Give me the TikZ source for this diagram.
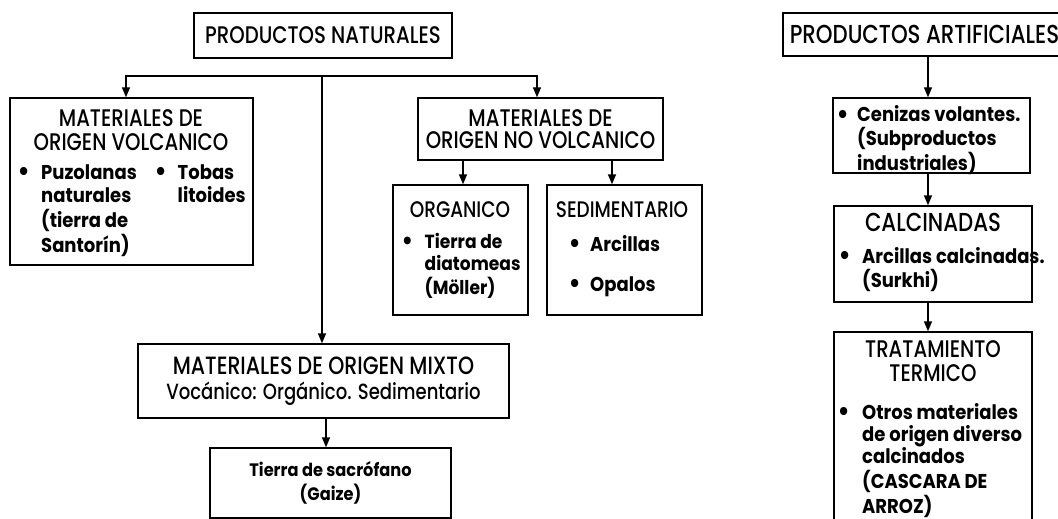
\documentclass[tikz,border=0pt]{standalone}
\usepackage{graphicx}
\usepackage{fontspec}
\setmainfont{Poppins}[UprightFont=* Medium, UprightFeatures={FakeStretch=0.82}, BoldFont=* Bold, BoldFeatures={FakeStretch=0.9}]
\usetikzlibrary{arrows.meta}

\tikzset{
  caja/.style={draw, line width=1.4, inner sep=0},
  flecha/.style={line width=1.4, -{Triangle[length=10pt,width=8pt]}},
  titulo/.style={font=\fontsize{24}{24}\selectfont, align=center, inner sep=0},
  vin/.style={font=\bfseries\fontsize{20}{23}\selectfont, anchor=base west, inner sep=0},
}
\newcommand{\vineta}[2][22pt]{\makebox[#1][l]{\raisebox{-1.5pt}{\scalebox{1.35}{\textbullet}}}\begin{tabular}[t]{@{}l@{}}#2\end{tabular}}

\begin{document}
\begin{tikzpicture}[x=1pt,y=-1pt]
      \useasboundingbox (0,0) rectangle (1058,519);
      \clip (0,0) rectangle (1058,519);
      \node[caja, titulo, minimum width=258, minimum height=45] (nat) at (323,35.5) {PRODUCTOS NATURALES};
      \node[caja, minimum width=243, minimum height=167] (volc) at (131.5,181.5) {};
      \node[titulo] (volcT) at (131,130) {MATERIALES DE\\ORIGEN VOLCANICO};
      \node[vin] (puz) at (17.5,179) {\vineta[23.5pt]{Puzolanas\\naturales\\(tierra de\\Santorín)}};
      \node[vin] (tob) at (154.5,179) {\vineta[23pt]{Tobas\\litoides}};
      \node[caja, titulo, font=\fontsize{24}{22}\selectfont, minimum width=245, minimum height=62] (novolc) at (540.5,129) {MATERIALES DE\\ORIGEN NO VOLCANICO};
      \node[caja, minimum width=135, minimum height=130] (org) at (460.5,250) {};
      \node[titulo, font=\fontsize{22.5}{23}\selectfont] (orgT) at (460,210) {ORGANICO};
      \node[vin, font=\bfseries\fontsize{19}{22.5}\selectfont] (dia) at (401.5,248) {\vineta[23pt]{Tierra de\\diatomeas\\(Möller)}};
      \node[caja, minimum width=155, minimum height=130] (sed) at (624.5,250) {};
      \node[titulo, font=\fontsize{22.5}{23}\selectfont] (sedT) at (622,210) {SEDIMENTARIO};
      \node[vin] (arc) at (568.5,251) {\vineta[21.5pt]{Arcillas}};
      \node[vin] (opa) at (568.5,291) {\vineta[21.5pt]{Opalos}};
      \node[caja, titulo, font=\fontsize{25}{25}\selectfont, minimum width=371, minimum height=74] (mixto) at (323.5,381) {MATERIALES DE ORIGEN MIXTO\\{\fontsize{22}{25}\selectfont Vocánico: Orgánico. Sedimentario}};
      \node[caja, titulo, font=\bfseries\fontsize{18}{24}\selectfont, minimum width=241, minimum height=70] (tierra) at (330.5,483) {Tierra de sacrófano\\(Gaize)};

      \node[caja, titulo, font=\fontsize{26}{26}\selectfont, minimum width=283, minimum height=43] (art) at (924.5,34.5) {PRODUCTOS ARTIFICIALES};
      \node[caja, minimum width=197, minimum height=75] (cen) at (931.5,135.5) {};
      \node[vin, font=\bfseries\fontsize{20}{20.5}\selectfont] (ceni) at (836.5,121.5) {\vineta[20.5pt]{Cenizas volantes.\\(Subproductos\\industriales)}};
      \node[caja, minimum width=198, minimum height=96] (calc) at (933,254) {};
      \node[titulo, font=\fontsize{26}{26}\selectfont] (calcT) at (933,222) {CALCINADAS};
      \node[vin, font=\bfseries\fontsize{20}{21}\selectfont] (arcc) at (838.5,263) {\vineta[23.5pt]{Arcillas calcinadas.\\(Surkhi)}};
      \node[caja, minimum width=198, minimum height=228] (trat) at (933,446) {};
      \node[titulo, font=\fontsize{24}{24}\selectfont] (tratT) at (933,361) {TRATAMIENTO\\TERMICO};
      \node[vin, font=\bfseries\fontsize{20}{21.5}\selectfont] (otros) at (837.5,419) {\vineta[24.5pt]{Otros materiales\\de origen diverso\\calcinados\\(CASCARA DE\\ARROZ)}};

      \coordinate (busL) at (126,76);
      \coordinate (busC) at (322,76);
      \coordinate (busR) at (537,76);
      \draw[flecha] (busC) -- (busL) -- (busL |- volc.north);
      \draw[flecha] (busC) -- (busR) -- (busR |- novolc.north);
      \draw[flecha] (busC) -- (busC |- mixto.north);
      \path (org.north) ++(2.5,0) coordinate (orgA);
      \draw[flecha] (orgA |- novolc.south) -- (orgA);
      \path (sed.north) ++(-12.5,0) coordinate (sedA);
      \draw[flecha] (sedA |- novolc.south) -- (sedA);
      \path (mixto.south) ++(2.5,0) coordinate (mixA);
      \draw[flecha] (mixA) -- (mixA |- tierra.north);
      \coordinate (colA) at (928,0);
      \draw[flecha] (colA |- art.south) -- (colA |- cen.north);
      \draw[flecha] (colA |- cen.south) -- (colA |- calc.north);
      \draw[flecha] (colA |- calc.south) -- (colA |- trat.north);
\end{tikzpicture}
\end{document}
